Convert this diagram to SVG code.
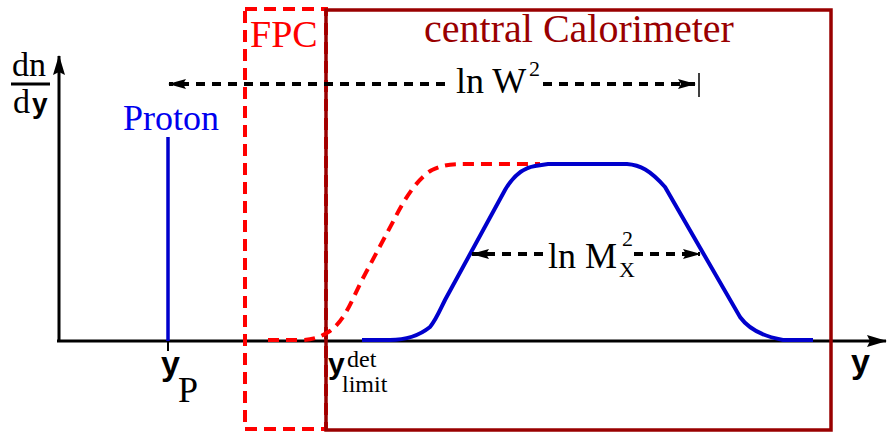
<svg xmlns="http://www.w3.org/2000/svg" width="888" height="432" viewBox="0 0 888 432">
<style>
.serif{font-family:"Liberation Serif","Times New Roman",serif}
.bold{font-family:"Liberation Sans",Arial,sans-serif;font-weight:bold}
.arrow{stroke:#000;stroke-width:4;stroke-dasharray:9 7;fill:none}
</style>
<defs>
<marker id="ah" markerUnits="userSpaceOnUse" markerWidth="18" markerHeight="10" refX="17" refY="5" orient="auto">
<path d="M0,0 L18,5 L0,10 L3,5 Z" fill="#000"/>
</marker>
<marker id="axh" markerUnits="userSpaceOnUse" markerWidth="20" markerHeight="12" refX="19" refY="6" orient="auto">
<path d="M0,0 L20,6 L0,12 L3,6 Z" fill="#000"/>
</marker>
</defs>
<rect width="888" height="432" fill="#fff"/>

<g id="axes">
<line x1="57" y1="341" x2="886" y2="341" stroke="#000" stroke-width="3" marker-end="url(#axh)"/>
<line x1="59" y1="342" x2="59" y2="56" stroke="#000" stroke-width="3" marker-end="url(#axh)"/>
<line x1="168" y1="341" x2="168" y2="351" stroke="#000" stroke-width="2"/>
<text class="serif" x="12" y="76" font-size="34">dn</text>
<line x1="11" y1="84" x2="50" y2="84" stroke="#000" stroke-width="3"/>
<text class="serif" x="13" y="113" font-size="34">d</text>
<text class="bold" x="32" y="113" font-size="28">y</text>
<text class="bold" x="851" y="373" font-size="34">y</text>
</g>

<g id="fpc">
<rect x="245" y="9" width="81" height="420" fill="none" stroke="#ff0000" stroke-width="4" stroke-dasharray="12 7"/>
<text class="serif" x="250" y="47" font-size="38" fill="#ff0000">FPC</text>
</g>

<g id="calorimeter">
<rect x="326" y="10" width="505" height="420" fill="none" stroke="#990000" stroke-width="3.5"/>
<text class="serif" x="579" y="42" font-size="40" fill="#990000" text-anchor="middle">central Calorimeter</text>
</g>

<g id="proton">
<line x1="168" y1="137" x2="168" y2="341" stroke="#0000cc" stroke-width="3.5"/>
<text class="serif" x="123" y="130" font-size="36" fill="#0000ee">Proton</text>
</g>

<g id="yP">
<text class="bold" x="161" y="375" font-size="34">y</text>
<text class="serif" x="178" y="402" font-size="36">P</text>
</g>

<g id="ylimit">
<text class="bold" x="328" y="374" font-size="30">y</text>
<text class="serif" x="347" y="367" font-size="24">det</text>
<text class="serif" x="342" y="392" font-size="24">limit</text>
</g>

<g id="curves">
<path d="M268,340 L300,340 C315,340 322,336 330,331 C345,320 352,300 362,280 L395,218 C405,198 418,178 432,170 C442,165 450,164 465,164 L540,164" fill="none" stroke="#ff0000" stroke-width="4" stroke-dasharray="11 7"/>
<path d="M362,340 L390,340 C405,340 420,335 430,327 C436,320 440,310 445,300 L505,190 C512,178 522,168 535,166 L548,164 L627,164 C640,165 650,170 665,187 L740,317 C748,328 760,336 783,340 L813,340" fill="none" stroke="#0000cc" stroke-width="4"/>
</g>

<g id="connectors">
<line class="arrow" x1="445" y1="84" x2="169" y2="84" marker-end="url(#ah)"/>
<line class="arrow" x1="543" y1="84" x2="695" y2="84" marker-end="url(#ah)"/>
<line x1="699" y1="73" x2="699" y2="97" stroke="#000" stroke-width="1.5"/>
<line class="arrow" x1="543" y1="254" x2="472" y2="254" marker-end="url(#ah)"/>
<line class="arrow" x1="634" y1="254" x2="700" y2="254" marker-end="url(#ah)"/>
</g>

<g id="labels">
<text class="serif" x="456" y="93" font-size="36">ln W</text>
<text class="serif" x="529" y="76" font-size="22">2</text>
<text class="serif" x="548" y="268" font-size="36">ln M</text>
<text class="serif" x="622" y="246" font-size="22">2</text>
<text class="serif" x="619" y="277" font-size="22">X</text>
</g>
</svg>
